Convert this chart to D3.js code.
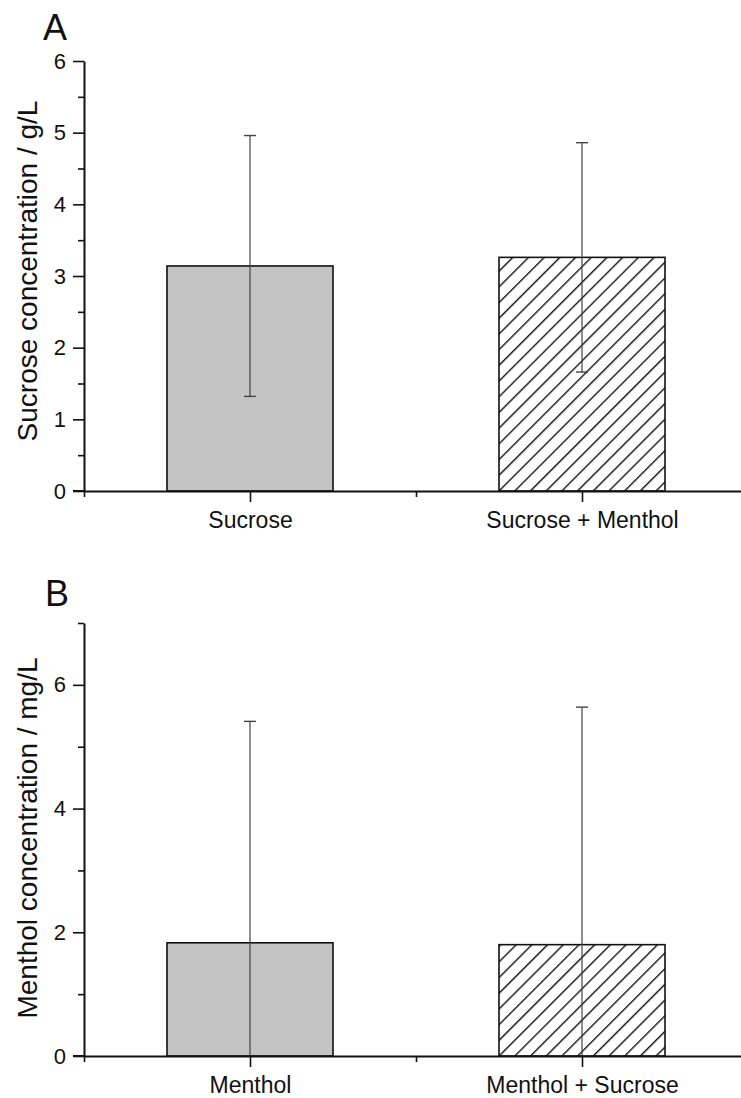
<!DOCTYPE html>
<html lang="en">
<head>
    <meta charset="UTF-8">
    <title>Sucrose and menthol concentration</title>
    <script src="https://d3js.org/d3.v7.min.js"></script>
    <style>
        body {
            margin: 0;
            background-color: #ffffff;
            font-family: Arial, "Liberation Sans", sans-serif;
        }
    </style>
</head>
<body>
    <svg width="741" height="1098"></svg>
    <script>
        // Panel A: sucrose
        const sucroseCategories = ["Sucrose", "Sucrose + Menthol"];
        const sucroseMeans = [3.14, 3.26];
        const sucroseSD = [1.82, 1.60];
        const sucroseMajorTicks = [0, 1, 2, 3, 4, 5, 6];
        const sucroseMinorTicks = [0.5, 1.5, 2.5, 3.5, 4.5, 5.5];

        // Panel B: menthol
        const mentholCategories = ["Menthol", "Menthol + Sucrose"];
        const mentholMeans = [1.83, 1.80];
        const mentholSD = [3.58, 3.84];
        const mentholMajorTicks = [0, 2, 4, 6];
        const mentholMinorTicks = [1, 3, 5, 7];

        const catPositions = [1, 2];
        const catMinorTicks = [0.5, 1.5, 2.5];

        const font = "Arial, 'Liberation Sans', sans-serif";
        const svg = d3.select("svg");

        // hatch pattern for the second bar
        svg.append("defs")
           .append("pattern")
           .attr("id", "hatch")
           .attr("patternUnits", "userSpaceOnUse")
           .attr("width", 11.1)
           .attr("height", 11.1)
           .attr("patternTransform", "rotate(45)")
           .call(p => {
               p.append("rect").attr("width", 11.1).attr("height", 11.1).attr("fill", "#ffffff");
               p.append("line")
                .attr("x1", 0.7).attr("y1", 0)
                .attr("x2", 0.7).attr("y2", 11.1)
                .attr("stroke", "#111")
                .attr("stroke-width", 1.4);
           });

        function drawPanel(opts) {
            const g = svg.append("g");

            const x = d3.scaleLinear()
                        .domain([0.5, 2.5])
                        .range([84, 748]);

            const y = d3.scaleLinear()
                        .domain([0, opts.yMax])
                        .range([opts.bottom, opts.top]);

            const barHalf = 0.25;

            // bars
            g.selectAll(".bar")
             .data(opts.means)
             .enter()
             .append("rect")
             .attr("x", (d, i) => x(catPositions[i] - barHalf))
             .attr("y", d => y(d))
             .attr("width", x(1 + barHalf) - x(1 - barHalf))
             .attr("height", d => y(0) - y(d))
             .attr("fill", (d, i) => i === 0 ? "#c4c4c4" : "url(#hatch)")
             .attr("stroke", "#111")
             .attr("stroke-width", 1.6);

            // error bars (lower end cut at the axis)
            const errs = opts.means.map((m, i) => ({
                cx: x(catPositions[i]),
                hi: m + opts.sd[i],
                lo: Math.max(0, m - opts.sd[i])
            }));

            g.selectAll(".err")
             .data(errs)
             .enter()
             .append("line")
             .attr("x1", d => d.cx).attr("x2", d => d.cx)
             .attr("y1", d => y(d.hi)).attr("y2", d => y(d.lo))
             .attr("stroke", "#444")
             .attr("stroke-width", 1.2);

            g.selectAll(".cap-hi")
             .data(errs)
             .enter()
             .append("line")
             .attr("x1", d => d.cx - 6).attr("x2", d => d.cx + 6)
             .attr("y1", d => y(d.hi)).attr("y2", d => y(d.hi))
             .attr("stroke", "#444")
             .attr("stroke-width", 1.4);

            g.selectAll(".cap-lo")
             .data(errs.filter(d => d.lo > 0))
             .enter()
             .append("line")
             .attr("x1", d => d.cx - 6).attr("x2", d => d.cx + 6)
             .attr("y1", d => y(d.lo)).attr("y2", d => y(d.lo))
             .attr("stroke", "#444")
             .attr("stroke-width", 1.4);

            // y axis
            const yAxis = g.append("g")
                           .attr("transform", "translate(84,0)")
                           .call(d3.axisLeft(y)
                                   .tickValues(opts.majorTicks)
                                   .tickFormat(d3.format("d"))
                                   .tickSize(11)
                                   .tickPadding(7)
                                   .tickSizeOuter(0));
            yAxis.select(".domain").attr("stroke", "#111").attr("stroke-width", 2);
            yAxis.selectAll(".tick line").attr("stroke", "#111").attr("stroke-width", 1.6);
            yAxis.selectAll(".tick text")
                 .attr("fill", "#111")
                 .style("font-size", "22px")
                 .style("font-family", font);

            const yMinor = g.append("g")
                            .attr("transform", "translate(84,0)")
                            .call(d3.axisLeft(y)
                                    .tickValues(opts.minorTicks)
                                    .tickSize(6)
                                    .tickFormat(""));
            yMinor.select(".domain").remove();
            yMinor.selectAll(".tick line").attr("stroke", "#111").attr("stroke-width", 1.6);

            // x axis
            const xAxis = g.append("g")
                           .attr("transform", `translate(0,${opts.bottom})`)
                           .call(d3.axisBottom(x)
                                   .tickValues(catPositions)
                                   .tickSize(11)
                                   .tickPadding(10)
                                   .tickSizeOuter(0)
                                   .tickFormat((d, i) => opts.categories[i]));
            xAxis.select(".domain").attr("stroke", "#111").attr("stroke-width", 2);
            xAxis.selectAll(".tick line").attr("stroke", "#111").attr("stroke-width", 1.6);
            xAxis.selectAll(".tick text")
                 .attr("fill", "#111")
                 .style("font-size", "23px")
                 .style("font-family", font);

            const xMinor = g.append("g")
                            .attr("transform", `translate(0,${opts.bottom})`)
                            .call(d3.axisBottom(x)
                                    .tickValues(catMinorTicks)
                                    .tickSize(6)
                                    .tickFormat(""));
            xMinor.select(".domain").remove();
            xMinor.selectAll(".tick line").attr("stroke", "#111").attr("stroke-width", 1.6);

            // extend x axis line to the left under the y ticks
            g.append("line")
             .attr("x1", 73).attr("x2", 84)
             .attr("y1", opts.bottom).attr("y2", opts.bottom)
             .attr("stroke", "#111")
             .attr("stroke-width", 2);

            // axis title
            g.append("text")
             .attr("transform", `translate(37,${opts.titleY}) rotate(-90)`)
             .attr("text-anchor", "middle")
             .attr("fill", "#111")
             .style("font-size", "28px")
             .style("font-family", font)
             .text(opts.title);

            // panel letter
            g.append("text")
             .attr("x", opts.letterX)
             .attr("y", opts.letterY)
             .attr("fill", "#111")
             .style("font-size", "36px")
             .style("font-family", font)
             .text(opts.letter);
        }

        drawPanel({
            categories: sucroseCategories,
            means: sucroseMeans,
            sd: sucroseSD,
            majorTicks: sucroseMajorTicks,
            minorTicks: sucroseMinorTicks,
            yMax: 6,
            top: 61,
            bottom: 491,
            title: "Sucrose concentration / g/L",
            titleY: 271,
            letter: "A",
            letterX: 43,
            letterY: 40
        });

        drawPanel({
            categories: mentholCategories,
            means: mentholMeans,
            sd: mentholSD,
            majorTicks: mentholMajorTicks,
            minorTicks: mentholMinorTicks,
            yMax: 7,
            top: 623,
            bottom: 1056,
            title: "Menthol concentration / mg/L",
            titleY: 838,
            letter: "B",
            letterX: 45,
            letterY: 606
        });
    </script>
</body>
</html>
